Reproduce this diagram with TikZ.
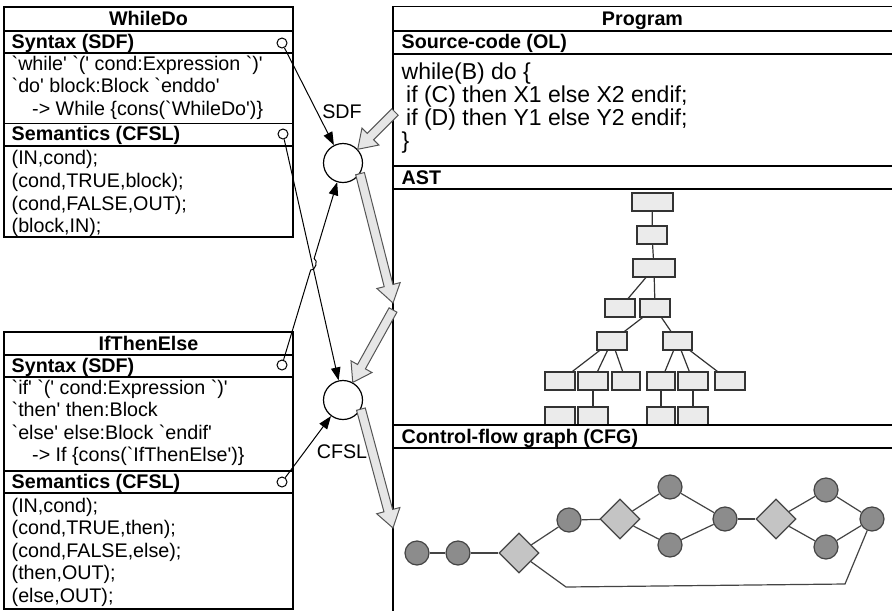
\documentclass[tikz,border=0pt]{standalone}
\usepackage{fontspec}
\setmainfont{Liberation Sans}[Ligatures=TeXOff]
\usetikzlibrary{calc,arrows.meta,shapes.geometric,intersections}
\definecolor{astfill}{HTML}{EBEBEB}
\definecolor{astdraw}{HTML}{333333}
\definecolor{cfgnode}{HTML}{8C8C8C}
\definecolor{cfgdia}{HTML}{C4C4C4}
\definecolor{cfgline}{HTML}{444444}
\definecolor{fatfill}{HTML}{E6E6E6}
\definecolor{fatdraw}{HTML}{555555}
\tikzset{
 frame/.style={draw=black, line width=1.4pt},
 txt/.style={anchor=base west, inner sep=0pt, font=\fontsize{19.7}{22}\selectfont},
 hdr/.style={anchor=base west, inner sep=0pt, font=\fontsize{19.7}{22}\selectfont\bfseries},
 ttl/.style={anchor=base, inner sep=0pt, font=\fontsize{19.7}{22}\selectfont\bfseries},
 lbl/.style={inner sep=0pt, font=\fontsize{19.7}{22}\selectfont},
 src/.style={anchor=base west, inner sep=0pt, font=\fontsize{23}{23}\selectfont},
 port/.style={circle, draw, fill=white, line width=1pt, minimum size=10pt, inner sep=0pt},
 proc/.style={circle, draw, fill=white, line width=1.2pt, minimum size=39pt, inner sep=0pt},
 link/.style={line width=1pt, -{Triangle[length=13pt,width=9.5pt]}},
 astbox/.style={rectangle, draw=astdraw, fill=astfill, line width=1.2pt, minimum height=18pt, inner sep=0pt},
 astedge/.style={draw=astdraw, line width=1.2pt},
 cfgc/.style={circle, draw=cfgline, fill=cfgnode, line width=1.2pt, minimum size=24pt, inner sep=0pt},
 cfgd/.style={diamond, draw=cfgline, fill=cfgdia, line width=1.2pt, minimum size=40pt, inner sep=0pt, aspect=1},
 cfgedge/.style={draw=cfgline, line width=1.2pt},
 fatarrow/.style={draw=fatdraw, fill=fatfill, line width=1pt, line join=miter},
}
\newcommand\fatarr[2]{%
  \path ($(#2)!18pt!(#1)$) coordinate (hb);
  \draw[fatarrow] ($(#1)!4.5pt!90:(#2)$) -- ($(hb)!4.5pt!90:(#2)$) -- ($(hb)!12pt!90:(#2)$) -- (#2)
    -- ($(hb)!12pt!-90:(#2)$) -- ($(hb)!4.5pt!-90:(#2)$) -- ($(#1)!4.5pt!-90:(#2)$) -- cycle;}
\begin{document}
\begin{tikzpicture}[x=1pt,y=-1pt]
\useasboundingbox (0,0) rectangle (892,611);
\fill[white] (0,0) rectangle (892,611);

% ---------- WhileDo ----------
\draw[frame] (4,7) rectangle (293,237);
\draw[frame] (4,31) -- (293,31) (4,53) -- (293,53) (4,123.5) -- (293,123.5) (4,146) -- (293,146);
\node[ttl] (wtitle) at (148.5,25) {WhileDo};
\node[hdr] (wsyn) at (11.5,48.5) {Syntax (SDF)};
\node[txt] (wc1) at (11.5,70) {`while' `(' cond:Expression `)'};
\node[txt] (wc2) at (11.5,92.5) {`do' block:Block `enddo'};
\node[txt] (wc3) at (32,115) {-> While \{cons(`WhileDo')\}};
\node[hdr] (wsem) at (11.5,140.7) {Semantics (CFSL)};
\node[txt] (ws1) at (11.5,164.5) {(IN,cond);};
\node[txt] (ws2) at (11.5,187.5) {(cond,TRUE,block);};
\node[txt] (ws3) at (11.5,210) {(cond,FALSE,OUT);};
\node[txt] (ws4) at (11.5,232.5) {(block,IN);};

% ---------- IfThenElse ----------
\draw[frame] (4,332) rectangle (293,609);
\draw[frame] (4,355) -- (293,355) (4,377) -- (293,377) (4,471) -- (293,471) (4,493) -- (293,493);
\node[ttl] (ititle) at (148.5,350) {IfThenElse};
\node[hdr] (isyn) at (11.5,372.5) {Syntax (SDF)};
\node[txt] (ic1) at (11.5,394) {`if' `(' cond:Expression `)'};
\node[txt] (ic2) at (11.5,416.5) {`then' then:Block};
\node[txt] (ic3) at (11.5,439) {`else' else:Block `endif'};
\node[txt] (ic4) at (32,461.5) {-> If \{cons(`IfThenElse')\}};
\node[hdr] (isem) at (11.5,488) {Semantics (CFSL)};
\node[txt] (is1) at (11.5,512) {(IN,cond);};
\node[txt] (is2) at (11.5,534.5) {(cond,TRUE,then);};
\node[txt] (is3) at (11.5,557) {(cond,FALSE,else);};
\node[txt] (is4) at (11.5,579.5) {(then,OUT);};
\node[txt] (is5) at (11.5,602) {(else,OUT);};

% ---------- AST ----------
\node[astbox, minimum width=41pt] (a1) at (652.5,202) {};
\node[astbox, minimum width=30pt] (a2) at (652,235) {};
\node[astbox, minimum width=42pt] (a3) at (654,268) {};
\node[astbox, minimum width=30pt] (a4l) at (620,308) {};
\node[astbox, minimum width=30pt] (a4r) at (655,308) {};
\node[astbox, minimum width=30pt] (a5l) at (612,341) {};
\node[astbox, minimum width=29pt] (a5r) at (677.5,341) {};
\node[astbox, minimum width=30pt] (a61) at (560,381) {};
\node[astbox, minimum width=30pt] (a62) at (593,381) {};
\node[astbox, minimum width=28pt] (a63) at (626,381) {};
\node[astbox, minimum width=28pt] (a64) at (661,381) {};
\node[astbox, minimum width=30pt] (a65) at (693,381) {};
\node[astbox, minimum width=30pt] (a66) at (730,381) {};
\node[astbox, minimum width=30pt] (a71) at (560,416) {};
\node[astbox, minimum width=30pt] (a72) at (593,416) {};
\node[astbox, minimum width=28pt] (a73) at (661,416) {};
\node[astbox, minimum width=30pt] (a74) at (693,416) {};
\draw[astedge] (a1) -- (a2);
\draw[astedge] (a2) -- (a3);
\draw[astedge] (a3) -- (a4l);
\draw[astedge] (a3) -- (a4r);
\draw[astedge] (a4r) -- (a5l);
\draw[astedge] (a4r) -- (a5r);
\draw[astedge] (a5l) -- (a61);
\draw[astedge] (a5l) -- (a62);
\draw[astedge] (a5l) -- (a63);
\draw[astedge] (a5r) -- (a64);
\draw[astedge] (a5r) -- (a65);
\draw[astedge] (a5r) -- (a66);
\draw[astedge] (a62) -- (a72);
\draw[astedge] (a64) -- (a73);
\draw[astedge] (a65) -- (a74);

% ---------- CFG ----------
\node[cfgc] (c1) at (417,553) {};
\node[cfgc] (c2) at (458,553) {};
\node[cfgd] (d1) at (519,553) {};
\node[cfgc] (c3) at (569,520) {};
\node[cfgd] (d2) at (620,519) {};
\node[cfgc] (c4) at (670,487) {};
\node[cfgc] (c5) at (670,545) {};
\node[cfgc] (c6) at (725,519) {};
\node[cfgd] (d3) at (776,519) {};
\node[cfgc] (c7) at (826,490) {};
\node[cfgc] (c8) at (826,547) {};
\node[cfgc] (c9) at (872,519) {};
\coordinate (lp1) at (566,587);
\coordinate (lp2) at (845,584);
\draw[cfgedge] (c1) -- (c2);
\draw[cfgedge] (c2) -- (d1);
\draw[cfgedge] (d1) -- (c3);
\draw[cfgedge] (c3) -- (d2);
\draw[cfgedge] (d2) -- (c4);
\draw[cfgedge] (d2) -- (c5);
\draw[cfgedge] (c4) -- (c6);
\draw[cfgedge] (c5) -- (c6);
\draw[cfgedge] (c6) -- (d3);
\draw[cfgedge] (d3) -- (c7);
\draw[cfgedge] (d3) -- (c8);
\draw[cfgedge] (c7) -- (c9);
\draw[cfgedge] (c8) -- (c9);
\draw[cfgedge] (d1) -- (lp1) -- (lp2) -- (c9);

% ---------- Program frame ----------
\draw[frame] (892,6.5) -- (393,6.5) -- (393,611);
\draw[frame] (393,31) -- (892,31) (393,54) -- (892,54) (393,166) -- (892,166)
  (393,189) -- (892,189) (393,425) -- (892,425) (393,448) -- (892,448);
\node[ttl] (ptitle) at (642.5,25) {Program};
\node[hdr] (psrc) at (401.5,48.5) {Source-code (OL)};
\node[src] (s1) at (401.5,79) {while(B) do \{};
\node[src] (s2) at (406,102) {if (C) then X1 else X2 endif;};
\node[src] (s3) at (406,125) {if (D) then Y1 else Y2 endif;};
\node[src] (s4) at (401.5,148) {\}};
\node[hdr] (past) at (401.5,184) {AST};
\node[hdr] (pcfg) at (401.5,443) {Control-flow graph (CFG)};

% ---------- weaving ----------
\node[port] (wsp) at (282,43) {};
\node[port] (wmp) at (283,134) {};
\node[port] (isp) at (282,365) {};
\node[port] (imp) at (282,482) {};
\node[proc] (sdf) at (343,163) {};
\node[proc] (cfsl) at (343,400) {};
\node[lbl] (sdflbl) at (342,112) {SDF};
\node[lbl] (cfsllbl) at (342,452) {CFSL};
\draw[link] (wsp) -- (sdf);
\draw[link] (wmp) -- (cfsl);
\path[name path=pa] (wmp) -- (cfsl);
\path[name path=pb] (isp) -- (sdf);
\path[name intersections={of=pa and pb, by=hopc}];
\draw[link] (isp) -- ($(hopc)!6pt!(isp)$) to[bend right=90] ($(hopc)!6pt!(sdf)$) -- (sdf);
\draw[link] (imp) -- (cfsl);

% ---------- transformation arrows ----------
\coordinate (f1t) at (395,112);
\coordinate (f2h) at (393,303);
\coordinate (f3t) at (393,310);
\coordinate (f4h) at (393,528);
\fatarr{f1t}{sdf.43}
\fatarr{sdf.-32}{f2h}
\fatarr{f3t}{cfsl.61}
\fatarr{cfsl.-27}{f4h}
\end{tikzpicture}
\end{document}
